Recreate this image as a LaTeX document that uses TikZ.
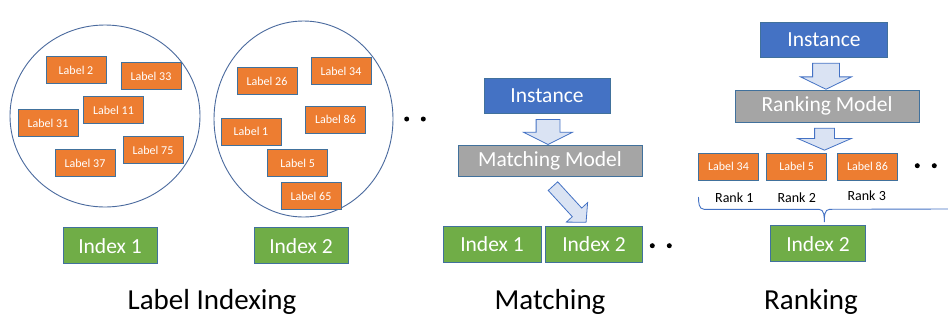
\documentclass[tikz,border=0pt]{standalone}
\usepackage{fontspec}
\setmainfont{Carlito}
\usetikzlibrary{shapes.geometric,shapes.arrows}
\definecolor{lblorange}{HTML}{ED7D31}
\definecolor{boxedge}{HTML}{41719C}
\definecolor{instblue}{HTML}{4472C4}
\definecolor{modgray}{HTML}{A5A5A5}
\definecolor{idxgreen}{HTML}{70AD47}
\definecolor{arrowfill}{HTML}{DAE3F3}
\definecolor{arrowedge}{HTML}{4472C4}
\definecolor{ringedge}{HTML}{4A6A9E}
\begin{document}
\begin{tikzpicture}[x=1pt,y=-1pt,
 lbl/.style={draw=boxedge, fill=lblorange, text=white, minimum width=60pt, minimum height=27pt, inner sep=0pt, font=\fontsize{12}{14}\selectfont, line width=0.8pt},
 idx/.style={draw=boxedge, fill=idxgreen, text=white, minimum width=94pt, minimum height=36pt, inner sep=0pt, font=\fontsize{21.5}{24}\selectfont, line width=0.8pt},
 inst/.style={draw=boxedge, fill=instblue, text=white, minimum width=126pt, minimum height=35pt, inner sep=0pt, font=\fontsize{21.5}{24}\selectfont, line width=0.8pt},
 model/.style={draw=boxedge, fill=modgray, text=white, minimum width=184pt, minimum height=31pt, inner sep=0pt, font=\fontsize{21.5}{24}\selectfont, line width=0.8pt},
 ring/.style={draw=ringedge, ellipse, line width=0.9pt, inner sep=0pt},
 dot/.style={circle, fill=black, minimum size=5pt, inner sep=0pt},
 blockarrow/.style={single arrow, draw=arrowedge, fill=arrowfill, inner xsep=0pt, line width=0.8pt},
 rank/.style={font=\fontsize{14}{16}\selectfont},
 title/.style={font=\fontsize{29}{34}\selectfont},
]
\useasboundingbox[fill=white] (0,0) rectangle (948,325);

% ---------- Label Indexing ----------
\node[ring, minimum width=190pt, minimum height=182pt] (ring1) at (105,116) {};
\node[lbl] (l2)  at (76,70)    {Label 2};
\node[lbl] (l33) at (151,76)   {Label 33};
\node[lbl] (l11) at (113.5,110){Label 11};
\node[lbl] (l31) at (48,123)   {Label 31};
\node[lbl] (l75) at (153,150)  {Label 75};
\node[lbl] (l37) at (85,163)   {Label 37};

\node[ring, minimum width=179pt, minimum height=196pt] (ring2) at (303.5,119) {};
\node[lbl] (l26) at (267,81)    {Label 26};
\node[lbl] (l34) at (341,71)    {Label 34};
\node[lbl] (l86) at (335.5,119.5){Label 86};
\node[lbl] (l1)  at (251,131.7) {Label 1};
\node[lbl] (l5)  at (297.7,163) {Label 5};
\node[lbl] (l65) at (311,196)   {Label 65};

\node[dot] (d1) at (406.7,119) {};
\node[dot] (d2) at (423.3,119) {};

\node[idx] (ia1) at (110,245.8) {Index 1};
\node[idx] (ia2) at (301,245.8) {Index 2};

% ---------- Matching ----------
\node[inst] (minst) at (547,96) {Instance};
\node[blockarrow, minimum height=25pt, inner ysep=11.5pt, single arrow head extend=12.5pt, single arrow tip angle=127, rotate=-90] (ma1) at (548,129) {};
\node[model] (mmod) at (550,161.3) {Matching Model};
\node[blockarrow, minimum height=49pt, inner ysep=6pt, single arrow head extend=8pt, single arrow tip angle=94, rotate=-47.5] (ma2) at (567.5,202) {};
\node[idx, minimum width=98pt] (mi1) at (492,244) {Index 1};
\node[idx, minimum width=97pt] (mi2) at (594,244) {Index 2};
\node[dot] (d3) at (652.3,245.7) {};
\node[dot] (d4) at (669.3,245.7) {};

% ---------- Ranking ----------
\node[inst, minimum width=127pt] (rinst) at (824,40) {Instance};
\node[blockarrow, minimum height=26pt, inner ysep=13pt, single arrow head extend=12pt, single arrow tip angle=128, rotate=-90] (ra1) at (826,73) {};
\node[model, minimum height=32pt] (rmod) at (827,106) {Ranking Model};
\node[blockarrow, minimum height=22pt, inner ysep=9.5pt, single arrow head extend=17pt, single arrow tip angle=133, rotate=-90] (ra2) at (824.5,137) {};
\node[lbl] (r34) at (728.5,166.7) {Label 34};
\node[lbl] (r5)  at (796.7,166.7) {Label 5};
\node[lbl] (r86) at (867.5,166.7) {Label 86};
\node[dot] (d5) at (917.3,165.7) {};
\node[dot] (d6) at (934.3,165.7) {};
\node[rank] (rk1) at (734.3,197.7) {Rank 1};
\node[rank] (rk2) at (796.7,197.7) {Rank 2};
\node[rank] (rk3) at (866.7,196) {Rank 3};
\coordinate (bl) at (698.5,197);
\coordinate (br) at (948,209);
\coordinate (btip) at (824.3,222);
\draw[arrowedge, line width=0.9pt] (bl) to[out=-90,in=180] (704,209.3) -- (819,209.3)
   to[out=0,in=90] (btip) to[out=90,in=180] (829.6,209.3) -- (br);
\node[idx, minimum width=95pt] (ri2) at (818,243.7) {Index 2};

% ---------- Titles ----------
\node[title] (t1) at (212,302) {Label Indexing};
\node[title] (t2) at (550,302) {Matching};
\node[title] (t3) at (811,302) {Ranking};
\end{tikzpicture}
\end{document}
